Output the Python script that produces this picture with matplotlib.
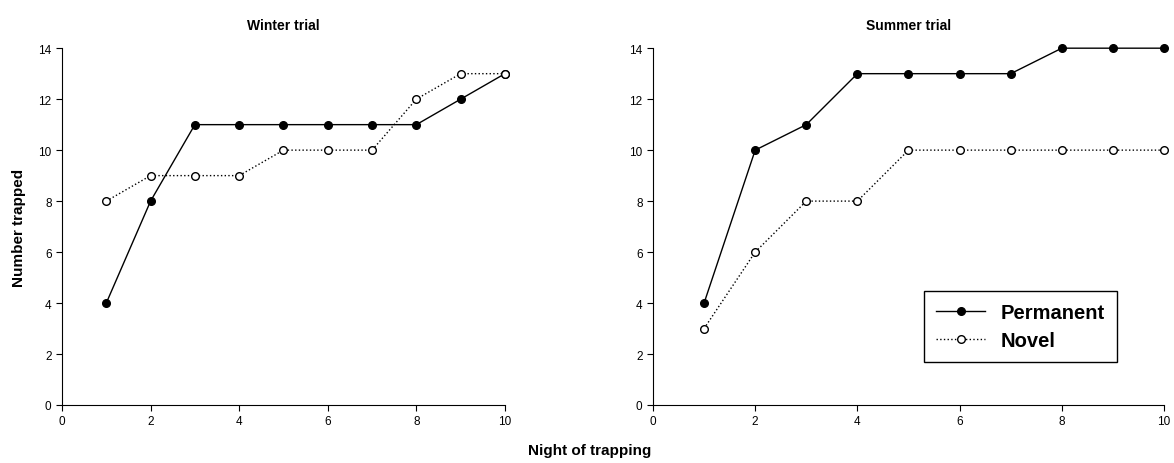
import matplotlib.pyplot as plt

plt.rcParams['font.family'] = ['Liberation Sans', 'DejaVu Sans']

nights = [1, 2, 3, 4, 5, 6, 7, 8, 9, 10]
winter_permanent = [4, 8, 11, 11, 11, 11, 11, 11, 12, 13]
winter_novel = [8, 9, 9, 9, 10, 10, 10, 12, 13, 13]
summer_permanent = [4, 10, 11, 13, 13, 13, 13, 14, 14, 14]
summer_novel = [3, 6, 8, 8, 10, 10, 10, 10, 10, 10]

fig = plt.figure(figsize=(11.74, 4.64), dpi=100)
ax1 = fig.add_axes([0.0528, 0.125, 0.3773, 0.769])
ax2 = fig.add_axes([0.5562, 0.125, 0.4353, 0.769])


def draw(ax, perm, novel, title):
    ax.plot(nights, perm, '-', color='black', lw=1, marker='o', ms=5.5,
            mfc='black', mec='black', clip_on=False, zorder=3, label='Permanent')
    ax.plot(nights, novel, ':', color='black', lw=1, marker='o', ms=5.5,
            mfc='white', mec='black', clip_on=False, zorder=3, label='Novel')
    ax.set_xlim(0, 10)
    ax.set_ylim(0, 14)
    ax.set_xticks(range(0, 11, 2))
    ax.set_yticks(range(0, 15, 2))
    ax.spines['top'].set_visible(False)
    ax.spines['right'].set_visible(False)
    ax.tick_params(labelsize=8.5, length=4, direction='out')
    ax.set_title(title, fontsize=10, fontweight='bold', pad=14)


draw(ax1, winter_permanent, winter_novel, 'Winter trial')
draw(ax2, summer_permanent, summer_novel, 'Summer trial')

ax1.set_ylabel('Number trapped', fontsize=11, fontweight='bold', labelpad=9)
fig.text(0.502, 0.028, 'Night of trapping', ha='center', va='center',
         fontsize=11, fontweight='bold')

leg = ax2.legend(loc='lower right', bbox_to_anchor=(0.908, 0.12),
                 borderaxespad=0, prop={'weight': 'bold', 'size': 14.5},
                 fancybox=False, edgecolor='black', framealpha=1,
                 handlelength=2.4, borderpad=0.6, labelspacing=0.45,
                 handletextpad=0.8)
leg.get_frame().set_linewidth(1)

fig.savefig('out.png', dpi=100)
